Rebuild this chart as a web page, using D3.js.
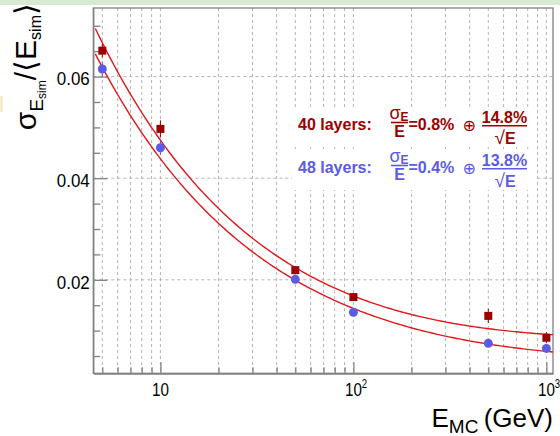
<!DOCTYPE html>
<html>
<head>
<meta charset="utf-8">
<title>Energy resolution vs energy</title>
<script src="https://cdn.jsdelivr.net/npm/d3@7"></script>
<style>
    body { margin: 0; background: #fff; }
    svg { display: block; }
    text { font-family: "Liberation Sans", Arial, Helvetica, sans-serif; }
    .grid line { stroke: #b4b4b4; stroke-width: 1; stroke-dasharray: 3,3; }
    .axis path, .axis line { stroke: #808080; stroke-width: 1.3; }
</style>
</head>
<body>
<svg width="560" height="436"></svg>
<script>
    // beam energies (GeV)
    let energies = [5, 10, 50, 100, 500, 1000]
    // 40 layers: sigma/E and errors
    let res40 = [0.0651, 0.0497, 0.0219, 0.0166, 0.0129, 0.0086]
    let err40 = [0.0013, 0.0017, 0.0007, 0.0007, 0.0014, 0.0011]
    // 48 layers
    let res48 = [0.0615, 0.0460, 0.0201, 0.0136, 0.0075, 0.0065]
    let err48 = [0.0015, 0.0014, 0.0006, 0.0006, 0.0005, 0.0005]
    // fit parameters [constant, stochastic]
    let fit40 = [0.008, 0.148]
    let fit48 = [0.004, 0.138]
    let layerLabels = ["40 layers:", "48 layers:"]
    let xMajor = [10, 100, 1000]
    let xLabels = [["10", ""], ["10", "2"], ["10", "3"]]
    let yMajor = [0.02, 0.04, 0.06]

    let red = "#9c0000", blue = "#5b5be6", fitColor = "#e3161b"

    let svg = d3.select("svg")
    let fLeft = 93.3, fRight = 553, fTop = 8, fBottom = 373.3

    let x = d3.scaleLog().domain([4.49, 1082]).range([fLeft, fRight])
    let y = d3.scaleLinear().domain([0.0016, 0.0735]).range([fBottom, fTop])

    // minor ticks
    let xMinor = []
    ;[1, 10, 100].forEach(dec => d3.range(1, 10).forEach(k => {
        let v = k * dec
        if (v >= 4.49 && v <= 1082 && xMajor.indexOf(v) < 0) xMinor.push(v)
    }))
    let xAll = xMinor.concat(xMajor)
    let yMinor = d3.range(1, 15).map(i => +(i * 0.005).toFixed(3)).filter(v => yMajor.indexOf(v) < 0)

    // top strip + small artifact
    svg.append("rect").attr("x", 0).attr("y", 0).attr("width", 560).attr("height", 5).attr("fill", "#d7ead2")
    svg.append("rect").attr("x", 0).attr("y", 96).attr("width", 3).attr("height", 16).attr("fill", "#f6ecd0")

    // grid
    let grid = svg.append("g").attr("class", "grid")
    grid.selectAll(".gx").data(xAll).enter().append("line")
        .attr("x1", d => x(d)).attr("x2", d => x(d)).attr("y1", fTop).attr("y2", fBottom)
    grid.selectAll(".gy").data(yMajor).enter().append("line")
        .attr("x1", fLeft).attr("x2", fRight).attr("y1", d => y(d)).attr("y2", d => y(d))

    // legend boxes (white fill, hide grid)
    ;[0, 43].forEach(off => {
        svg.append("rect").attr("x", 292).attr("y", 109 + off).attr("width", 244).attr("height", 38).attr("fill", "#fff")
    })

    // axes (ticks inside frame)
    svg.append("g").attr("class", "axis").attr("transform", `translate(0,${fBottom})`)
        .call(d3.axisBottom(x).tickValues(xMinor).tickSize(-6).tickSizeOuter(0).tickFormat(""))
    svg.append("g").attr("class", "axis").attr("transform", `translate(0,${fBottom})`)
        .call(d3.axisBottom(x).tickValues(xMajor).tickSize(-11).tickSizeOuter(0).tickFormat(""))
    svg.append("g").attr("class", "axis").attr("transform", `translate(${fLeft},0)`)
        .call(d3.axisLeft(y).tickValues(yMinor).tickSize(-7).tickSizeOuter(0).tickFormat(""))
    let yAx = svg.append("g").attr("class", "axis").attr("transform", `translate(${fLeft},0)`)
        .call(d3.axisLeft(y).tickValues(yMajor).tickSize(-14).tickSizeOuter(0).tickPadding(3.5).tickFormat(d3.format(".2f")))
    yAx.selectAll("text").attr("dy", "0.44em").style("font-size", "19px").attr("fill", "#000")
        .attr("textLength", 33).attr("lengthAdjust", "spacingAndGlyphs")
    yAx.select(".domain").remove()

    // frame
    svg.append("rect").attr("x", fLeft).attr("y", fTop).attr("width", fRight - fLeft).attr("height", fBottom - fTop)
        .attr("fill", "none").attr("stroke", "#808080").attr("stroke-width", 1.3)

    // x labels with exponent (slightly condensed like the original)
    xMajor.forEach((v, i) => {
        let t = svg.append("text").attr("transform", `translate(${x(v)},396) scale(0.8,1)`)
            .attr("x", -10.55).style("font-size", "19px")
        t.append("tspan").text(xLabels[i][0])
        if (xLabels[i][1]) t.append("tspan").attr("dy", -8.5).style("font-size", "12px").text(xLabels[i][1])
    })

    // axis titles
    let xt = svg.append("text").attr("x", 553).attr("y", 427).attr("text-anchor", "end")
        .style("font-size", "26px").style("white-space", "pre")
    xt.append("tspan").text("E")
    xt.append("tspan").attr("dy", 6).style("font-size", "19px").text("MC")
    xt.append("tspan").attr("dy", -6).attr("dx", -2).text(" (GeV)")

    let yt = svg.append("text").attr("transform", "translate(35.5,3) rotate(-90)")
        .attr("text-anchor", "end").style("font-size", "30px")
    yt.append("tspan").text("σ")
    yt.append("tspan").attr("dy", 7).style("font-size", "19px").text("E")
    yt.append("tspan").attr("dy", 3).style("font-size", "12px").text("sim")
    yt.append("tspan").attr("dy", -10).text("/⟨E")
    yt.append("tspan").attr("dy", 5).style("font-size", "16px").text("sim")
    yt.append("tspan").attr("dy", -5).text("⟩")

    // fit curves
    let eGrid = d3.range(0, 201).map(i => 4.6 * Math.pow(1080 / 4.6, i / 200))
    let line = d3.line().x(d => x(d[0])).y(d => y(d[1]))
    ;[fit40, fit48].forEach(p => {
        svg.append("path")
            .datum(eGrid.map(e => [e, Math.sqrt(p[0] * p[0] + p[1] * p[1] / e)]))
            .attr("d", line).attr("fill", "none").attr("stroke", fitColor).attr("stroke-width", 1.4)
    })

    // error bars
    let drawErr = (vals, errs, col) => {
        svg.append("g").selectAll("line").data(energies).enter().append("line")
            .attr("x1", d => x(d)).attr("x2", d => x(d))
            .attr("y1", (d, i) => y(vals[i] - errs[i])).attr("y2", (d, i) => y(vals[i] + errs[i]))
            .attr("stroke", col).attr("stroke-width", 1)
    }
    drawErr(res40, err40, red)
    drawErr(res48, err48, blue)

    // markers
    svg.append("g").selectAll("rect").data(energies).enter().append("rect")
        .attr("x", d => x(d) - 4).attr("y", (d, i) => y(res40[i]) - 4)
        .attr("width", 8).attr("height", 8).attr("fill", red)
    svg.append("g").selectAll("circle").data(energies).enter().append("circle")
        .attr("cx", d => x(d)).attr("cy", (d, i) => y(res48[i])).attr("r", 4.5).attr("fill", blue)

    // legend formulas
    let pct = v => (v * 100).toFixed(1) + "%"
    ;[[fit40, red], [fit48, blue]].forEach((row, k) => {
        let p = row[0], col = row[1], o = k * 43
        let g = svg.append("g").attr("fill", col).style("font-weight", "bold").style("font-size", "16px")
        g.append("text").attr("x", 298).attr("y", 130 + o).text(layerLabels[k])
        // sigma_E / E
        let num = g.append("text").attr("x", 399).attr("y", 119 + o).attr("text-anchor", "middle")
        num.append("tspan").style("font-weight", "normal").style("font-size", "18px").text("σ")
        num.append("tspan").attr("dy", 1.5).style("font-size", "12px").text("E")
        g.append("line").attr("x1", 391).attr("x2", 408).attr("y1", 122.5 + o).attr("y2", 122.5 + o)
            .attr("stroke", col).attr("stroke-width", 1.6)
        g.append("text").attr("x", 399.5).attr("y", 136.5 + o).attr("text-anchor", "middle").text("E")
        g.append("text").attr("x", 408.5).attr("y", 130 + o).text("=" + pct(p[0]))
        g.append("text").attr("x", 462.5).attr("y", 131 + o).style("font-weight", "normal")
            .style("font-family", "DejaVu Sans").style("font-size", "16px").text("⊕")
        // stochastic / sqrt(E)
        g.append("text").attr("x", 504.5).attr("y", 122.8 + o).attr("text-anchor", "middle").text(pct(p[1]))
        g.append("line").attr("x1", 482).attr("x2", 527).attr("y1", 125.8 + o).attr("y2", 125.8 + o)
            .attr("stroke", col).attr("stroke-width", 1.6)
        let den = g.append("text").attr("x", 505).attr("y", 143.5 + o).attr("text-anchor", "middle")
        den.append("tspan").style("font-weight", "normal").style("font-size", "19px").text("√")
        den.append("tspan").text("E")
    })
</script>
</body>
</html>
